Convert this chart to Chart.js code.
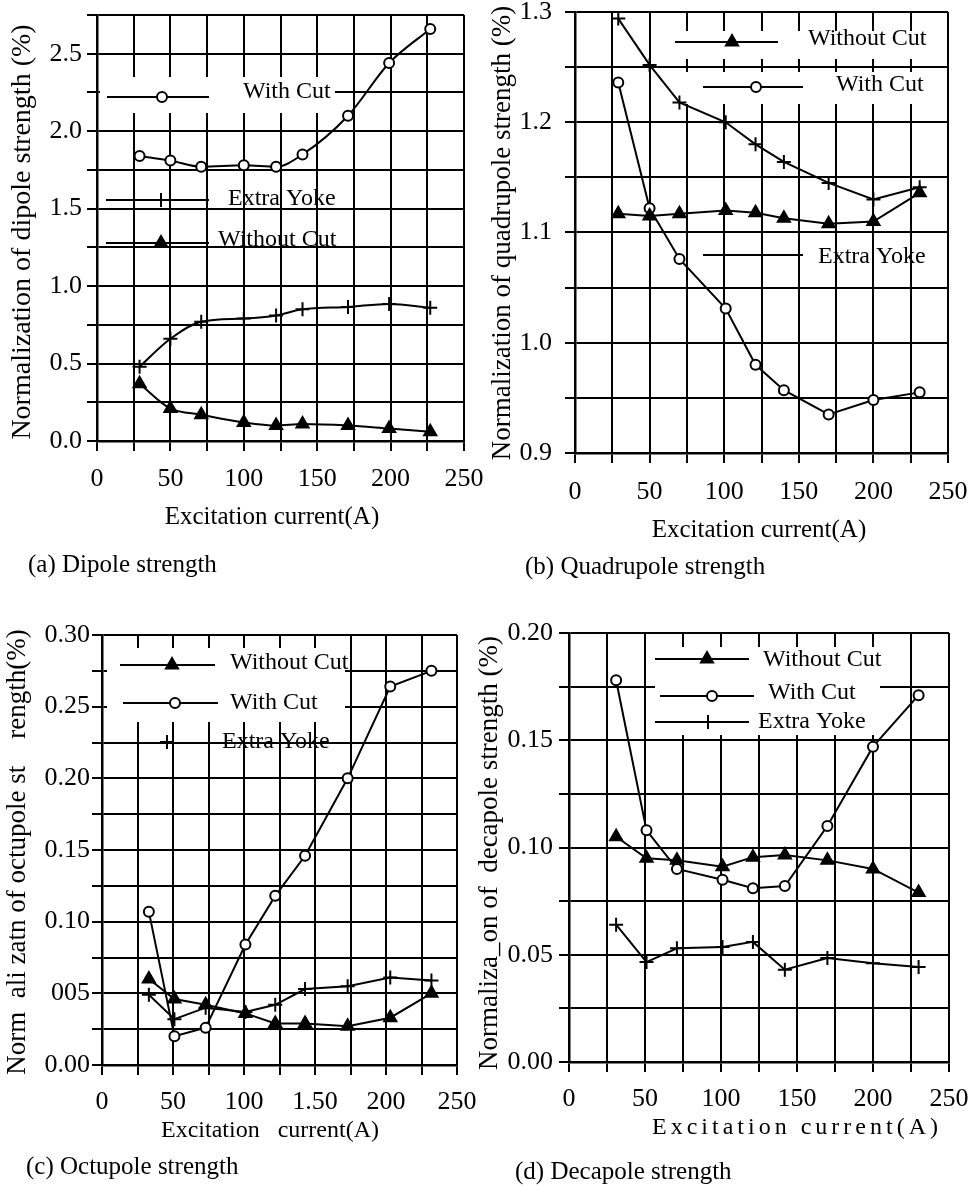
<!DOCTYPE html>
<html><head><meta charset="utf-8">
<script src="https://cdn.jsdelivr.net/npm/chart.js@4.4.1/dist/chart.umd.min.js"></script>
<style>
html,body{margin:0;padding:0;background:#fff;}
body{width:969px;height:1186px;position:relative;overflow:hidden;font-family:"Liberation Serif","Times New Roman",serif;}
canvas{position:absolute;}
.cap{position:absolute;font-size:25px;line-height:30px;color:#000;white-space:pre;}
</style></head><body>
<canvas id="ca" width="500" height="590" style="left:0px;top:0px;width:500px;height:590px"></canvas>
<canvas id="cb" width="501" height="590" style="left:468px;top:0px;width:501px;height:590px"></canvas>
<canvas id="cc" width="500" height="596" style="left:0px;top:590px;width:500px;height:596px"></canvas>
<canvas id="cd" width="501" height="596" style="left:468px;top:590px;width:501px;height:596px"></canvas>
<div class="cap" style="left:28px;top:549px">(a) Dipole strength</div>
<div class="cap" style="left:525px;top:551px">(b) Quadrupole strength</div>
<div class="cap" style="left:26px;top:1151px">(c) Octupole strength</div>
<div class="cap" style="left:515px;top:1156px">(d) Decapole strength</div>
<script>
// ---------- data ----------
const seriesNames = ['Without Cut', 'With Cut', 'Extra Yoke'];
const xTickLabels  = ['0','','50','','100','','150','','200','','250'];
const xTickLabelsC = ['0','','50','','100','','1.50','','200','','250'];

// (a) Dipole
const currentA    = [29, 50, 71, 100, 122, 140, 171, 199, 227];
const withCutA    = [1.84, 1.81, 1.77, 1.78, 1.77, 1.85, 2.10, 2.44, 2.66];
const extraYokeA  = [0.48, 0.66, 0.77, 0.79, 0.81, 0.85, 0.865, 0.885, 0.86];
const withoutCutA = [0.37, 0.21, 0.17, 0.12, 0.10, 0.11, 0.10, 0.08, 0.06];
const yTickLabelsA = ['0.0','','0.5','','1.0','','1.5','','2.0','','2.5',''];

// (b) Quadrupole
const currentB    = [29, 50, 70, 101, 121, 140, 170, 200, 231];
const withoutCutB = [1.117, 1.115, 1.117, 1.120, 1.118, 1.113, 1.108, 1.110, 1.136];
const withCutB    = [1.236, 1.122, 1.076, 1.031, 0.980, 0.957, 0.935, 0.948, 0.955];
const extraYokeB  = [1.294, 1.252, 1.218, 1.200, 1.180, 1.164, 1.145, 1.130, 1.141];
const yTickLabelsB = ['0.9','','1.0','','1.1','','1.2','','1.3'];

// (c) Octupole
const currentC    = [33, 51, 73, 101, 122, 143, 173, 203, 232];
const withoutCutC = [0.060, 0.046, 0.042, 0.036, 0.029, 0.029, 0.027, 0.033, 0.050];
const withCutC    = [0.107, 0.020, 0.026, 0.084, 0.118, 0.146, 0.200, 0.264, 0.275];
const extraYokeC  = [0.049, 0.032, 0.040, 0.037, 0.042, 0.053, 0.055, 0.061, 0.059];
const yTickLabelsC = ['0.00','','005','','0.10','','0.15','','0.20','','0.25','','0.30'];

// (d) Decapole
const currentD    = [31, 51, 71, 101, 121, 142, 170, 200, 230];
const withoutCutD = [0.105, 0.095, 0.094, 0.091, 0.0955, 0.0965, 0.094, 0.090, 0.079];
const withCutD    = [0.178, 0.108, 0.090, 0.085, 0.081, 0.082, 0.110, 0.147, 0.171];
const extraYokeD  = [0.064, 0.0466, 0.053, 0.0536, 0.056, 0.043, 0.0485, 0.046, 0.0443];
const yTickLabelsD = ['0.00','','0.05','','0.10','','0.15','','0.20'];

// ---------- rendering ----------
const FONT = '"Liberation Serif", "Times New Roman", serif';
Chart.defaults.color = '#000';
Chart.defaults.font.family = FONT;

const STYLE = {
  'Without Cut': {pointStyle:'triangle', r:7, fill:'#000'},
  'With Cut':    {pointStyle:'circle',   r:5, fill:'#fff'},
  'Extra Yoke':  {pointStyle:'cross',    r:7, fill:'#000'}
};

function drawMarker(ctx, style, x, y, r) {
  ctx.save();
  ctx.strokeStyle = '#000'; ctx.lineWidth = 2;
  ctx.beginPath();
  if (style === 'circle') {
    ctx.arc(x, y, r, 0, Math.PI * 2);
    ctx.fillStyle = '#fff'; ctx.fill(); ctx.stroke();
  } else if (style === 'triangle') {
    let a = 0;
    ctx.moveTo(x + Math.sin(a) * r, y - Math.cos(a) * r);
    a += 2 * Math.PI / 3;
    ctx.lineTo(x + Math.sin(a) * r, y - Math.cos(a) * r);
    a += 2 * Math.PI / 3;
    ctx.lineTo(x + Math.sin(a) * r, y - Math.cos(a) * r);
    ctx.closePath();
    ctx.fillStyle = '#000'; ctx.fill(); ctx.stroke();
  } else {
    ctx.moveTo(x, y - r); ctx.lineTo(x, y + r);
    ctx.moveTo(x - r, y); ctx.lineTo(x + r, y);
    ctx.stroke();
  }
  ctx.restore();
}

const overlay = {
  id: 'overlay',
  beforeDatasetsDraw(chart, args, o) {
    const ctx = chart.ctx;
    ctx.save();
    ctx.fillStyle = '#fff';
    (o.boxes || []).forEach(b => ctx.fillRect(b[0], b[1], b[2] - b[0], b[3] - b[1]));
    (o.legend || []).forEach(it => {
      ctx.strokeStyle = '#000'; ctx.lineWidth = 2;
      if (it.line) {
        ctx.beginPath(); ctx.moveTo(it.line[0], it.y); ctx.lineTo(it.line[1], it.y); ctx.stroke();
      }
      drawMarker(ctx, STYLE[it.name].pointStyle, it.mx, it.y, STYLE[it.name].r);
      ctx.fillStyle = '#000';
      ctx.font = '24px ' + FONT;
      ctx.textAlign = 'left'; ctx.textBaseline = 'middle';
      ctx.fillText(it.name, it.tx, it.ty);
    });
    ctx.restore();
  },
  afterDraw(chart, args, o) {
    const ctx = chart.ctx;
    (o.titles || []).forEach(t => {
      ctx.save();
      ctx.fillStyle = '#000';
      ctx.font = t.size + 'px ' + FONT;
      if (t.spacing) ctx.letterSpacing = t.spacing + 'px';
      ctx.textAlign = 'center'; ctx.textBaseline = 'middle';
      ctx.translate(t.x, t.y);
      if (t.rot) ctx.rotate(t.rot);
      ctx.fillText(t.text, 0, 0);
      ctx.restore();
    });
  }
};

function build(id, p) {
  const W = p.W, H = p.H, A = p.area, XH = 60;
  const datasets = p.series.map(s => {
    const st = STYLE[s.name];
    return {
      label: s.name,
      data: p.xs.map((x, i) => ({x: x, y: s.vals[i]})),
      borderColor: '#000', borderWidth: 2,
      backgroundColor: st.fill,
      pointStyle: st.pointStyle, pointRadius: st.r,
      pointBorderWidth: 2, pointBorderColor: '#000', pointBackgroundColor: st.fill,
      cubicInterpolationMode: p.smooth ? 'monotone' : 'default',
      tension: 0, fill: false, clip: false
    };
  });
  return new Chart(document.getElementById(id), {
    type: 'line',
    data: {datasets},
    plugins: [overlay],
    options: {
      responsive: false, animation: false, devicePixelRatio: 1, events: [],
      layout: {padding: {left: 0, top: A.t, right: W - A.r, bottom: H - A.b - XH}},
      plugins: {
        legend: {display: false}, tooltip: {enabled: false},
        overlay: {boxes: p.boxes, legend: p.legend, titles: p.titles}
      },
      scales: {
        x: {
          type: 'linear', min: 0, max: 250,
          ticks: {stepSize: 25, autoSkip: false, maxRotation: 0, minRotation: 0,
                  padding: p.xPad, font: {size: 26}, color: '#000',
                  callback: (v, i) => p.xLabels[i]},
          grid: {color: '#000', lineWidth: 2, tickLength: 10, drawTicks: true},
          border: {color: '#000', width: 2.5},
          afterFit: s => { s.height = XH; s.paddingLeft = 0; s.paddingRight = 0; }
        },
        y: {
          type: 'linear', min: p.yMin, max: p.yMax,
          ticks: {stepSize: p.yStep, autoSkip: false, padding: p.yPad,
                  font: {size: 26}, color: '#000',
                  callback: (v, i) => p.yLabels[i]},
          grid: {color: '#000', lineWidth: 2, tickLength: 10, drawTicks: true},
          border: {color: '#000', width: 2.5},
          afterFit: s => { s.width = A.l; s.paddingTop = 0; s.paddingBottom = 0; }
        }
      }
    }
  });
}

// (a)
build('ca', {
  W: 500, H: 590, area: {l: 97, t: 15, r: 464, b: 441},
  xs: currentA, yMin: 0, yMax: 2.75, yStep: 0.25, yLabels: yTickLabelsA, xLabels: xTickLabels,
  xPad: 13, yPad: 5, smooth: true,
  series: [{name: seriesNames[1], vals: withCutA}, {name: seriesNames[2], vals: extraYokeA}, {name: seriesNames[0], vals: withoutCutA}],
  boxes: [[100, 77, 335, 113]],
  legend: [
    {name: seriesNames[1], line: [107, 209], y: 97, mx: 162, tx: 243, ty: 92},
    {name: seriesNames[2], line: [106, 209], y: 200, mx: 161, tx: 228, ty: 199},
    {name: seriesNames[0], line: [106, 209], y: 243, mx: 161, tx: 218, ty: 240}
  ],
  titles: [
    {text: 'Excitation current(A)', x: 272, y: 517, size: 25},
    {text: 'Normalization of dipole strength (%)', x: 23, y: 232, size: 28, rot: -Math.PI / 2}
  ]
});

// (b)
build('cb', {
  W: 501, H: 590, area: {l: 107, t: 12, r: 480, b: 453},
  xs: currentB, yMin: 0.9, yMax: 1.3, yStep: 0.05, yLabels: yTickLabelsB, xLabels: xTickLabels,
  xPad: 14, yPad: 13, smooth: false,
  series: [{name: seriesNames[0], vals: withoutCutB}, {name: seriesNames[1], vals: withCutB}, {name: seriesNames[2], vals: extraYokeB}],
  boxes: [[202, 31, 477, 59], [212, 72, 477, 104]],
  legend: [
    {name: seriesNames[0], line: [207, 310], y: 42, mx: 264, tx: 340, ty: 39},
    {name: seriesNames[1], line: [235, 335], y: 87, mx: 288, tx: 368, ty: 85},
    {name: seriesNames[2], line: [235, 335], y: 255, mx: 294, tx: 350, ty: 257}
  ],
  titles: [
    {text: 'Excitation current(A)', x: 291, y: 530, size: 25},
    {text: 'Normalization of quadrupole strength (%)', x: 35, y: 233, size: 27, rot: -Math.PI / 2}
  ]
});

// (c)
build('cc', {
  W: 500, H: 596, area: {l: 102, t: 45, r: 457, b: 475},
  xs: currentC, yMin: 0, yMax: 0.30, yStep: 0.025, yLabels: yTickLabelsC, xLabels: xTickLabelsC,
  xPad: 12, yPad: 2, smooth: false,
  series: [{name: seriesNames[0], vals: withoutCutC}, {name: seriesNames[1], vals: withCutC}, {name: seriesNames[2], vals: extraYokeC}],
  boxes: [[107, 58, 345, 132]],
  legend: [
    {name: seriesNames[0], line: [120, 215], y: 75, mx: 172, tx: 230, ty: 73},
    {name: seriesNames[1], line: [123, 218], y: 113, mx: 175, tx: 230, ty: 113},
    {name: seriesNames[2], line: null, y: 152, mx: 167, tx: 222, ty: 152}
  ],
  titles: [
    {text: 'Excitation   current(A)', x: 270, y: 541, size: 24},
    {text: 'Norm  ali zatn of octupole st    rength(%)', x: 18, y: 262, size: 27, rot: -Math.PI / 2}
  ]
});

// (d)
build('cd', {
  W: 501, H: 596, area: {l: 101, t: 43, r: 481, b: 472},
  xs: currentD, yMin: 0, yMax: 0.20, yStep: 0.025, yLabels: yTickLabelsD, xLabels: xTickLabels,
  xPad: 12, yPad: 6, smooth: false,
  series: [{name: seriesNames[0], vals: withoutCutD}, {name: seriesNames[1], vals: withCutD}, {name: seriesNames[2], vals: extraYokeD}],
  boxes: [[187, 57, 412, 145]],
  legend: [
    {name: seriesNames[0], line: [187, 281], y: 69, mx: 239, tx: 295, ty: 70},
    {name: seriesNames[1], line: [192, 286], y: 106, mx: 244, tx: 300, ty: 103},
    {name: seriesNames[2], line: [187, 281], y: 132, mx: 240, tx: 290, ty: 132}
  ],
  titles: [
    {text: 'Excitation current(A)', x: 329, y: 538, size: 24, spacing: 4},
    {text: 'Normaliza_on of  decapole strength (%)', x: 22, y: 263, size: 27, rot: -Math.PI / 2}
  ]
});
</script>
</body></html>
